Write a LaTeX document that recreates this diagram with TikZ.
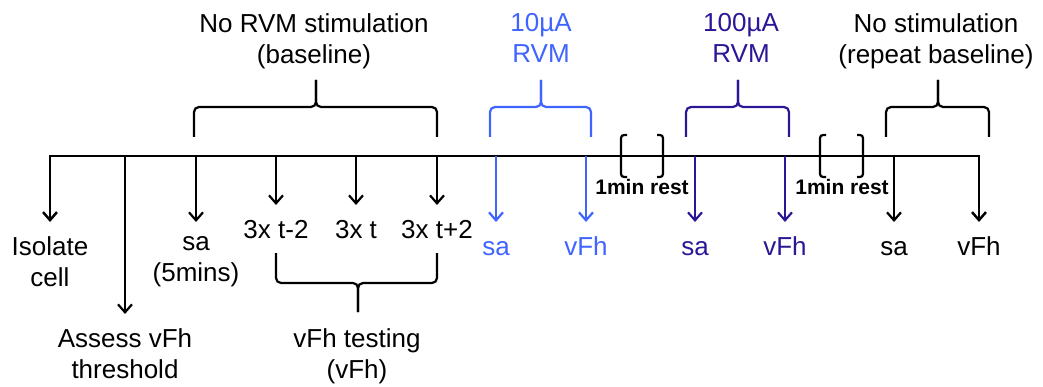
\documentclass[tikz,border=0pt]{standalone}
\usepackage{fontspec}
\setmainfont{Liberation Sans}
\usepackage{tikz}
\usetikzlibrary{arrows.meta}
\usepackage{xcolor}
\definecolor{lowstim}{RGB}{64,100,255}
\definecolor{highstim}{RGB}{45,22,150}

\begin{document}
\begin{tikzpicture}[x=1pt,y=-1pt,
  lbl/.style={font=\fontsize{26}{31}\selectfont, align=center, anchor=north,
              execute at begin node={\vphantom{Ih}}, inner xsep=1pt, inner ysep=14pt},
  arr/.style={line width=2.2pt, -{Straight Barb[length=8pt,width=14pt]}},
  brc/.style={line width=2.2pt, rounded corners=5pt},
  rst/.style={line width=2.2pt, rounded corners=3pt},
  restlbl/.style={font=\bfseries\fontsize{21}{25}\selectfont, inner sep=0pt, anchor=base}]

\useasboundingbox (0,0) rectangle (1043,387);

% ende der zeitachse
\coordinate (tIso) at (50,156);
\coordinate (tEnd) at (979,156);

% beschriftungen unter der achse
\node[lbl] (iso) at (50,222) {Isolate\\cell};
\node[lbl] (assess) at (125,314) {Assess vFh\\threshold};
\node[lbl] (sa5) at (196,222) {sa\\(5mins)};
\node[lbl] (m2) at (276,205) {3x t-2};
\node[lbl] (t0) at (356,205) {3x t};
\node[lbl] (p2) at (437,205) {3x t+2};
\node[lbl] (testing) at (357,314) {vFh testing\\(vFh)};

\node[lbl, text=lowstim] (lsa) at (496,222) {sa};
\node[lbl, text=lowstim] (lvfh) at (586,222) {vFh};
\node[lbl, text=highstim] (hsa) at (695,222) {sa};
\node[lbl, text=highstim] (hvfh) at (785,222) {vFh};
\node[lbl] (rsa) at (894,222) {sa};
\node[lbl] (rvfh) at (979,222) {vFh};

% beschriftungen oben
\node[lbl] (baseline) at (314,-1) {No RVM stimulation\\(baseline)};
\node[lbl, text=lowstim] (low) at (541,-1) {10µA\\RVM};
\node[lbl, text=highstim] (high) at (741,-1) {100µA\\RVM};
\node[lbl] (repeat) at (936,-1) {No stimulation\\(repeat baseline)};

% zeitachse mit den beiden aeusseren pfeilen
\draw[line width=2.5pt, {Straight Barb[length=8pt,width=14pt]}-{Straight Barb[length=8pt,width=14pt]}]
  (iso) -- (tIso) -- (tEnd) -- (rvfh);

% pfeile von der achse
\foreach \n in {assess,sa5,m2,t0,p2,rsa}
  \draw[arr] (\n |- tIso) -- (\n);
\foreach \n in {lsa,lvfh}
  \draw[arr, lowstim] (\n |- tIso) -- (\n);
\foreach \n in {hsa,hvfh}
  \draw[arr, highstim] (\n |- tIso) -- (\n);

% klammern oben
\draw[brc] (194,137) |- (316,107) -- (316,80);
\draw[brc] (437,137) |- (316,107) -- (316,80);
\draw[brc, lowstim] (490,137) |- (541,107) -- (541,80);
\draw[brc, lowstim] (591,137) |- (541,107) -- (541,80);
\draw[brc, highstim] (686,137) |- (738,107) -- (738,80);
\draw[brc, highstim] (789,137) |- (738,107) -- (738,80);
\draw[brc] (886,137) |- (938,107) -- (938,80);
\draw[brc] (989,137) |- (938,107) -- (938,80);

% klammer unten
\draw[brc] (276,253) |- (358,283) -- (358,312);
\draw[brc] (437,253) |- (358,283) -- (358,312);

% pausen
\draw[rst] (627,135) -- (621,135) -- (621,177) -- (627,177);
\draw[rst] (657,135) -- (663,135) -- (663,177) -- (657,177);
\node[restlbl] (rest1) at (642,195) {1min rest};
\draw[rst] (826,135) -- (820,135) -- (820,177) -- (826,177);
\draw[rst] (857,135) -- (863,135) -- (863,177) -- (857,177);
\node[restlbl] (rest2) at (842,195) {1min rest};

\end{tikzpicture}
\end{document}
